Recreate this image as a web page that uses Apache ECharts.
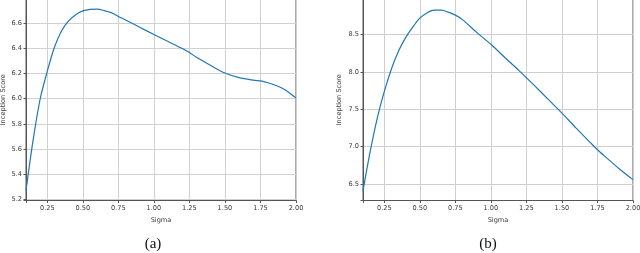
<!DOCTYPE html>
<html><head><meta charset="utf-8">
<script src="https://cdn.jsdelivr.net/npm/echarts@6/dist/echarts.min.js"></script>
<style>html,body{margin:0;padding:0;background:#fff}#c{width:640px;height:253px}</style>
</head><body><div id="c"></div>
<script>
// Panel (a)
const sigmaA = [0.10,0.15,0.20,0.25,0.30,0.35,0.40,0.45,0.50,0.55,0.60,0.65,0.70,0.75,0.80,0.90,1.00,1.10,1.20,1.25,1.30,1.40,1.50,1.60,1.70,1.76,1.80,1.85,1.90,1.95,2.00];
const scoreA = [5.27,5.67,6.00,6.22,6.41,6.54,6.62,6.67,6.70,6.712,6.714,6.703,6.686,6.656,6.628,6.57,6.512,6.456,6.40,6.368,6.33,6.265,6.205,6.168,6.148,6.14,6.128,6.11,6.085,6.05,6.005];
// Panel (b)
const sigmaB = [0.10,0.15,0.20,0.25,0.30,0.35,0.40,0.45,0.50,0.55,0.60,0.65,0.70,0.75,0.80,0.90,1.00,1.10,1.20,1.30,1.40,1.50,1.60,1.70,1.75,1.80,1.90,2.00];
const scoreB = [6.41,6.93,7.38,7.74,8.04,8.28,8.46,8.60,8.72,8.79,8.826,8.826,8.80,8.76,8.70,8.53,8.37,8.19,8.015,7.83,7.64,7.45,7.25,7.055,6.96,6.875,6.71,6.56];
const captions = ['(a)', '(b)'];
const xTitle = 'Sigma';
const yTitle = 'Inception Score';

const FONT = 'DejaVu Sans';
const axisCol = '#555';
const txtCol = '#3a3a3a';

function onStep(step, digits) {
  return function (v) {
    const r = v / step;
    return Math.abs(r - Math.round(r)) < 1e-6 ? v.toFixed(digits) : '';
  };
}
function xAxisFor(gi, col) {
  return {
    type: 'value', gridIndex: gi, min: 0.1, max: 2.0, minInterval: 0.25, maxInterval: 0.25,
    name: xTitle, nameLocation: 'middle', nameGap: 13,
    nameTextStyle: {fontFamily: FONT, fontSize: 6.6, color: txtCol},
    axisLine: {show: true, lineStyle: {color: axisCol, width: 1}},
    axisTick: {show: true, length: 2.5, lineStyle: {color: axisCol}},
    axisLabel: {fontFamily: FONT, fontSize: 6.6, color: txtCol, margin: 4, formatter: onStep(0.25, 2)},
    splitLine: {show: true, lineStyle: {color: col, width: 1}}
  };
}
function yAxisFor(gi, min, max, step, gap, col) {
  return {
    type: 'value', gridIndex: gi, min: min, max: max, minInterval: step, maxInterval: step,
    name: yTitle, nameLocation: 'middle', nameGap: gap, nameRotate: 90,
    nameTextStyle: {fontFamily: FONT, fontSize: 6.6, color: txtCol},
    axisLine: {show: true, lineStyle: {color: axisCol, width: 1}},
    axisTick: {show: true, length: 2.5, lineStyle: {color: axisCol}},
    axisLabel: {fontFamily: FONT, fontSize: 6.6, color: txtCol, margin: 4, showMaxLabel: false, formatter: onStep(step, 1)},
    splitLine: {show: true, lineStyle: {color: col, width: 1}}
  };
}
function pairs(xs, ys) { return xs.map((x, i) => [x, ys[i]]); }

const chart = echarts.init(document.getElementById('c'), null, {renderer: 'canvas'});
chart.setOption({
  animation: false,
  backgroundColor: '#fff',
  grid: [
    {left: 26, width: 270, top: -1, bottom: 52.5, show: true, borderColor: axisCol, borderWidth: 1, outerBoundsMode: 'none'},
    {left: 363, width: 270, top: -1, bottom: 52.5, show: true, borderColor: '#565656', borderWidth: 1, outerBoundsMode: 'none'}
  ],
  xAxis: [xAxisFor(0, '#d0d0d0'), xAxisFor(1, '#cfcfcf')],
  yAxis: [yAxisFor(0, 5.189, 6.795, 0.2, 19, '#d1d1d1'), yAxisFor(1, 6.281, 8.976, 0.5, 20, '#cecece')],
  series: [
    {type: 'line', xAxisIndex: 0, yAxisIndex: 0, data: pairs(sigmaA, scoreA), showSymbol: false, smooth: 0.3,
     lineStyle: {color: '#1f77b4', width: 1.2}},
    {type: 'line', xAxisIndex: 1, yAxisIndex: 1, data: pairs(sigmaB, scoreB), showSymbol: false, smooth: 0.3,
     lineStyle: {color: '#1f77b4', width: 1.2}}
  ],
  graphic: [
    {type: 'text', x: 153, y: 244, style: {text: captions[0], font: '15px "Liberation Serif"', fill: '#111', align: 'center', verticalAlign: 'middle'}},
    {type: 'text', x: 488, y: 244, style: {text: captions[1], font: '15px "Liberation Serif"', fill: '#111', align: 'center', verticalAlign: 'middle'}}
  ]
});
</script></body></html>
